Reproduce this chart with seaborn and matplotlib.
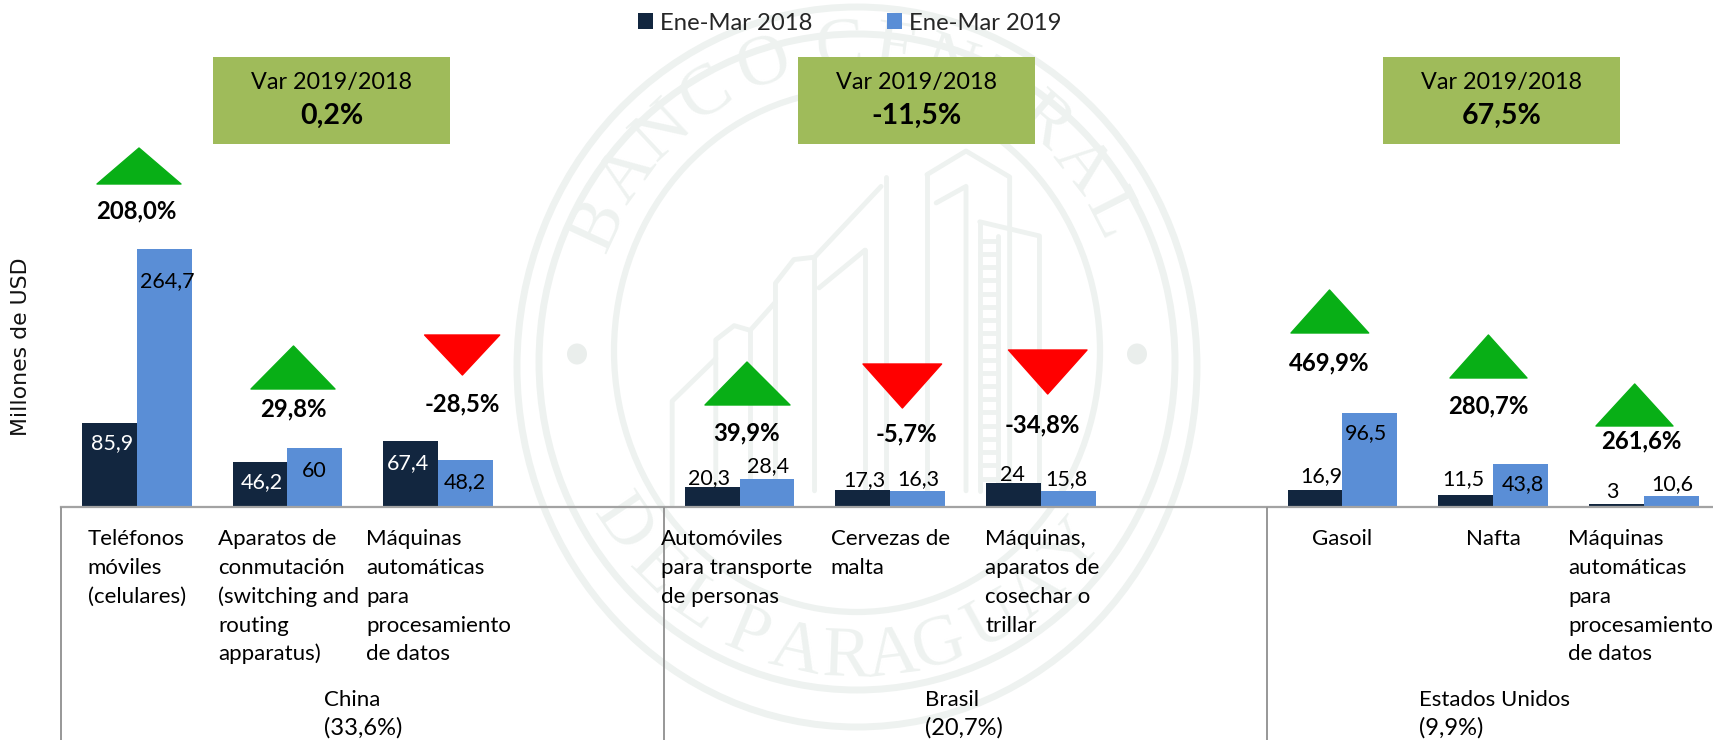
import numpy as np
import pandas as pd
import matplotlib
matplotlib.use("Agg")
import matplotlib.pyplot as plt
from matplotlib.patches import Polygon, Rectangle, Ellipse
import seaborn as sns

# ---- data ----
countries = ["China", "Brasil", "Estados Unidos"]
country_shares = ["(33,6%)", "(20,7%)", "(9,9%)"]
country_var = ["0,2%", "-11,5%", "67,5%"]
products = [
    ["Teléfonos", "móviles", "(celulares)"],
    ["Aparatos de", "conmutación", "(switching and", "routing", "apparatus)"],
    ["Máquinas", "automáticas", "para", "procesamiento", "de datos"],
    ["Automóviles", "para transporte", "de personas"],
    ["Cervezas de", "malta"],
    ["Máquinas,", "aparatos de", "cosechar o", "trillar"],
    ["Gasoil"],
    ["Nafta"],
    ["Máquinas", "automáticas", "para", "procesamiento", "de datos"],
]
values_2018 = [85.9, 46.2, 67.4, 20.3, 17.3, 24, 16.9, 11.5, 3]
values_2019 = [264.7, 60, 48.2, 28.4, 16.3, 15.8, 96.5, 43.8, 10.6]
labels_2018 = ["85,9", "46,2", "67,4", "20,3", "17,3", "24", "16,9", "11,5", "3"]
labels_2019 = ["264,7", "60", "48,2", "28,4", "16,3", "15,8", "96,5", "43,8", "10,6"]
changes = ["208,0%", "29,8%", "-28,5%", "39,9%", "-5,7%", "-34,8%", "469,9%", "280,7%", "261,6%"]
series = ["Ene-Mar 2018", "Ene-Mar 2019"]

# ---- layout (figure pixels) ----
W, H = 1713, 740
BASE_Y = 506.5
AX_L = 61.4
SLOT = 150.7
PX_PER_UNIT = 0.9728
slot_index = [0, 1, 2, 4, 5, 6, 8, 9, 10]

lab18_pos = [(112, 443), (262, 482), (407.6, 463), (709, 478), (864, 480), (1012, 475), (1321, 476), (1463, 479), (1612.5, 492)]
lab19_pos = [(167, 281), (314, 471), (465, 482), (768, 466), (918, 479), (1066, 479), (1366.5, 433), (1523, 484), (1672, 484)]
lab18_col = ["white", "white", "white"] + ["black"] * 6
change_pos = [(136, 211), (293, 409), (462, 404), (747, 433), (906, 434), (1042, 425), (1329.5, 363), (1488, 406), (1641, 441)]
# apex x, apex y, base left, base right, base y
tri = [(139, 148, 97, 181, 184), (293.5, 346, 251, 335, 389), (462.4, 375, 424.6, 499.7, 335),
       (747, 362, 705, 790, 405), (902.4, 408, 863, 941.6, 364), (1047.7, 394, 1008.5, 1087, 350),
       (1329.5, 290, 1291, 1368.7, 333), (1488.4, 335, 1450, 1527, 378), (1634.7, 384, 1596, 1673, 426)]
prod_x = [87.8, 218, 366, 661, 830.6, 985, 1342, 1493, 1568]
prod_ha = ["left"] * 6 + ["center", "center", "left"]
line_y = [539, 568, 597, 626, 654]
boxes = [(213, 450), (798, 1035), (1383, 1620)]
country_x = [323.6, 925, 1419]

FONT = "Lato"
FS = 16
FS_VAL = 15.5
FS_LEG = 17.2
DARK, BLUE = "#12263f", "#5a8ed6"
GREEN, RED, BOX = "#08af16", "#ff0000", "#9fbb5a"
WM = "#eef2f0"

sns.set_theme(style="white")
plt.rcParams["font.family"] = [FONT, "DejaVu Sans"]

slots = [f"s{i}" for i in range(11)]
df = pd.DataFrame({
    "slot": [slots[i] for i in slot_index] * 2,
    "serie": [series[0]] * 9 + [series[1]] * 9,
    "valor": values_2018 + values_2019,
})

fig = plt.figure(figsize=(W / 100, H / 100), dpi=100, facecolor="white")

def full_axes(z):
    a = fig.add_axes([0, 0, 1, 1], zorder=z)
    a.set_xlim(0, W)
    a.set_ylim(H, 0)
    a.axis("off")
    return a

bg = full_axes(0)
fg = full_axes(2)

# ---- watermark seal ----
CX, CY = 857, 354
for cy, rx, ry, lw in [(367, 340, 360, 5), (362, 318, 328, 5), (351, 243, 261, 4.5)]:
    bg.add_patch(Ellipse((CX, cy), 2 * rx, 2 * ry, fill=False, ec=WM, lw=lw))
for dx in (-280, 280):
    bg.add_patch(Ellipse((CX + dx, CY), 20, 21, fc="#eaeeec", ec="none"))

top_letters = list("BANCOCENTRAL")
top_angles = [-65, -54, -43, -32, -19, -3.4, 8, 19, 30, 41, 52, 63]
bottom_letters = list("DELPARAGUAY")
bottom_angles = [-56, -45, -34.5, -22.8, -12.5, -2, 7, 17, 28.6, 39, 50]
for ch, a in zip(top_letters, top_angles):
    t = np.radians(a)
    bg.text(CX + 284 * np.sin(t), CY - 305 * np.cos(t), ch, rotation=-a, rotation_mode="anchor",
            ha="center", va="center", family="Liberation Serif", fontsize=52, color=WM)
for ch, a in zip(bottom_letters, bottom_angles):
    t = np.radians(a)
    bg.text(CX + 284 * np.sin(t), CY + 305 * np.cos(t), ch, rotation=a, rotation_mode="anchor",
            ha="center", va="center", family="Liberation Serif", fontsize=52, color=WM)

building = [
    [(930, 370), (1015, 320), (1110, 375), (1110, 1040)],
    [(930, 370), (930, 1040)],
    [(950, 430), (1015, 395), (1015, 1040)],
    [(1045, 470), (1175, 500), (1175, 1040)],
    [(1045, 470), (1045, 1040)], [(1085, 500), (1085, 1040)],
    [(840, 375), (840, 1040)],
    [(830, 395), (685, 545), (685, 1040)],
    [(795, 530), (695, 610)],
    [(795, 530), (795, 1040)],
    [(685, 545), (640, 550), (600, 600), (600, 1040)],
    [(600, 640), (545, 700), (510, 690), (470, 720), (470, 1040)],
    [(545, 700), (545, 1040)],
    [(470, 760), (375, 850), (375, 1070)],
]
for line in building:
    xs = [500 + p[0] / 2.178 for p in line]
    ys = [p[1] / 2.119 for p in line]
    bg.plot(xs, ys, color=WM, lw=3.5, solid_joinstyle="round")
ladder_x = [500 + 1045 / 2.178, 500 + 1085 / 2.178]
for zy in range(510, 1040, 28):
    bg.plot(ladder_x, [zy / 2.119] * 2, color=WM, lw=3.5)

# ---- bars ----
ax = fig.add_axes([AX_L / W, 1 - BASE_Y / H, (W - AX_L) / W, BASE_Y / H], zorder=1)
ax.patch.set_alpha(0)
sns.barplot(data=df, x="slot", y="valor", hue="serie", order=slots, hue_order=series,
            palette=[DARK, BLUE], width=0.727, gap=0, saturation=1, errorbar=None,
            linewidth=0, ax=ax)
ax.set_xlim(-0.5, -0.5 + (W - AX_L) / SLOT)
ax.set_ylim(0, BASE_Y / PX_PER_UNIT)
ax.set_xlabel("")
ax.set_ylabel("")
ax.set_xticks([])
ax.set_yticks([])
for s in ("top", "left", "right"):
    ax.spines[s].set_visible(False)
ax.spines["bottom"].set_color("#a3a3a3")
ax.spines["bottom"].set_linewidth(1.6)

sns.move_legend(ax, loc="center left", title=None, ncol=2, frameon=False,
                bbox_to_anchor=((638 - AX_L) / (W - AX_L), (BASE_Y - 23) / BASE_Y),
                fontsize=FS_LEG, handlelength=0.63, handleheight=0.63, handletextpad=0.3,
                columnspacing=3.1, borderpad=0, borderaxespad=0)

# ---- annotations ----
for x in (AX_L, 664, 1267):
    fg.plot([x, x], [BASE_Y + 1, H], color="#8f8f8f", lw=1.3, clip_on=False)

fg.text(21, 347, "Millones de USD", rotation=90, ha="center", va="center",
        family="DejaVu Sans", fontsize=15.8, color="#111111")

for (x, y), s, c in zip(lab18_pos, labels_2018, lab18_col):
    fg.text(x, y, s, ha="center", va="center", fontsize=FS_VAL, color=c)
for (x, y), s in zip(lab19_pos, labels_2019):
    fg.text(x, y, s, ha="center", va="center", fontsize=FS_VAL, color="black")

for (x, y), s in zip(change_pos, changes):
    fg.text(x, y, s, ha="center", va="center", fontsize=17.2, fontweight="bold", color="black")

for ax_, ay, l, r, by in tri:
    fg.add_patch(Polygon([(ax_, ay), (l, by), (r, by)], closed=True,
                         fc=GREEN if ay < by else RED, ec=GREEN if ay < by else RED,
                         lw=1, joinstyle="round"))

for (l, r), v in zip(boxes, country_var):
    fg.add_patch(Rectangle((l, 57), r - l, 87, fc=BOX, ec="none"))
    fg.text((l + r) / 2, 83, "Var 2019/2018", ha="center", va="center", fontsize=16.8, color="black")
    fg.text((l + r) / 2, 116, v, ha="center", va="center", fontsize=20.5, fontweight="bold", color="black")

for lines, x, ha in zip(products, prod_x, prod_ha):
    for s, y in zip(lines, line_y):
        fg.text(x, y, s, ha=ha, va="center", fontsize=FS, color="black")

for name, share, x in zip(countries, country_shares, country_x):
    fg.text(x, 700, name, ha="left", va="center", fontsize=FS, color="black")
    fg.text(x, 728, share, ha="left", va="center", fontsize=17, color="black")

fig.savefig("out.png", dpi=100, facecolor="white")
